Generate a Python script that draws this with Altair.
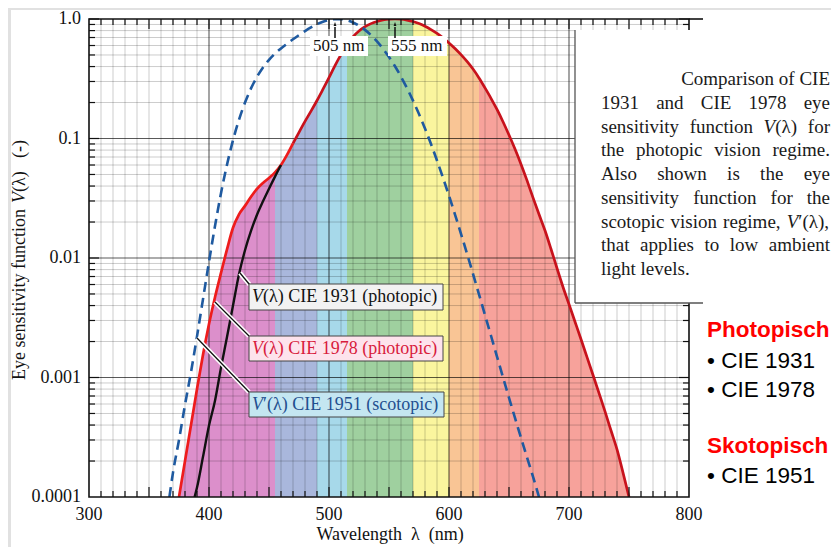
import altair as alt
import pandas as pd

# ---------------- data ----------------
wl_1978 = list(range(375, 751, 5))
v_1978 = [0.0001, 0.0002, 0.0004, 0.0008, 0.00155, 0.0028, 0.0047, 0.0075, 0.0118, 0.0179,
          0.0232, 0.0273, 0.0326, 0.0379, 0.0424, 0.0468, 0.0521, 0.0600, 0.0729, 0.0910,
          0.1126, 0.1390, 0.1693, 0.2080, 0.2586, 0.3230, 0.4073, 0.5030, 0.6082, 0.7100,
          0.7932, 0.8620, 0.9149, 0.9540, 0.9803, 0.9950, 1.0000, 0.9950, 0.9786, 0.9520,
          0.9154, 0.8700, 0.8163, 0.7570, 0.6949, 0.6310, 0.5668, 0.5030, 0.4412, 0.3810,
          0.3210, 0.2650, 0.2170, 0.1750, 0.1382, 0.1070, 0.0816, 0.0610, 0.0446, 0.0320,
          0.0232, 0.0170, 0.0119, 0.00821, 0.00572, 0.0041, 0.00293, 0.00209, 0.00148, 0.00105,
          0.00074, 0.00052, 0.00036, 0.00025, 0.00016, 0.0001]

wl_1931 = [388, 390, 395, 400, 405, 410, 415, 420, 425, 430, 435, 440, 445, 450, 455, 460]
v_1931 = [0.0001, 0.00012, 0.000217, 0.000396, 0.00064, 0.00121, 0.00218, 0.0040,
          0.0073, 0.0116, 0.01684, 0.0230, 0.0298, 0.0380, 0.0480, 0.0600]

wl_1951 = [367, 370] + list(range(375, 676, 5))
v_1951 = [0.0001, 0.00016, 0.0003, 0.00059, 0.00111, 0.00221, 0.00453, 0.00929, 0.01852, 0.03484,
          0.0604, 0.0966, 0.1436, 0.1998, 0.2625, 0.3281, 0.3931, 0.455, 0.513, 0.567,
          0.620, 0.676, 0.734, 0.793, 0.851, 0.904, 0.949, 0.982, 0.998, 0.997,
          0.975, 0.935, 0.880, 0.811, 0.733, 0.650, 0.564, 0.481, 0.402, 0.3288,
          0.2639, 0.2076, 0.1602, 0.1212, 0.0899, 0.0655, 0.0469, 0.03315, 0.0231, 0.01593,
          0.01088, 0.00737, 0.00497, 0.003335, 0.002235, 0.001497, 0.001005, 0.000677, 0.000459, 0.0003129,
          0.0002146, 0.000148, 0.0001]

band_names = ["Violett", "Blau", "Cyan", "Grün", "Gelb", "Orange", "Rot"]
band_edges = [375, 455, 490, 515, 570, 600, 625, 750]
band_colors = ["#dc8fcb", "#a9b7dc", "#a7d9ea", "#9fd09f", "#faf59e", "#f9c595", "#f7a29b"]

x_domain = [300, 800]
y_domain = [0.0001, 1.0]
x_label_values = [300, 400, 500, 600, 700, 800]
x_label_texts = ["300", "400", "500", "600", "700", "800"]
y_label_values = [0.0001, 0.001, 0.01, 0.1, 1.0]
y_label_texts = ["0.0001", "0.001", "0.01", "0.1", "1.0"]
x_title = "Wavelength \u00a0λ \u00a0(nm)"
peak_wl = [505, 555]
red_split_wl = 470  # where the 1978 curve changes from bright to dark red

x_grid_minor = [w for w in range(310, 800, 10) if w % 100]
x_grid_major = [400, 500, 600, 700]
x_ticks_short = [w for w in range(310, 800, 10) if w % 50]
x_ticks_long = [w for w in range(350, 800, 50)]
y_grid_minor = [k * 10.0 ** e for e in range(-4, 0) for k in range(2, 10)]
y_grid_major = [0.001, 0.01, 0.1]

SERIF = "Liberation Serif"
SANS = "Liberation Sans"
W, H = 600, 478

# ---------------- tables ----------------
df1931 = pd.DataFrame({"wl": wl_1931, "v": v_1931})
df1951 = pd.DataFrame({"wl": wl_1951, "v": v_1951})

red_rows = []
for w, v in zip(wl_1978, v_1978):
    if w <= red_split_wl:
        red_rows.append({"wl": w, "v": v, "seg": "a"})
    if w >= red_split_wl:
        red_rows.append({"wl": w, "v": v, "seg": "b"})
df1978 = pd.DataFrame(red_rows)

rows = []
for i, name in enumerate(band_names):
    lo, hi = band_edges[i], band_edges[i + 1]
    for w, v in zip(wl_1978, v_1978):
        if lo <= w <= hi:
            rows.append({"band": name, "wl": w, "v": v, "base": y_domain[0]})
bands_df = pd.DataFrame(rows)

xs = alt.Scale(domain=x_domain, nice=False, zero=False)
ys = alt.Scale(type="log", domain=y_domain, nice=False)


def X():
    return alt.X("wl:Q", scale=xs, axis=None)


def Y():
    return alt.Y("v:Q", scale=ys, axis=None)


def PX(field):
    return alt.X(field, scale=None, axis=None)


def PY(field):
    return alt.Y(field, scale=None, axis=None)


one = pd.DataFrame({"i": [0]})

# page white sheet on gray slide background
sheet = alt.Chart(one).mark_rect(fill="white").encode(
    x=alt.value(-78), x2=alt.value(760), y=alt.value(-9), y2=alt.value(560))

bands = alt.Chart(bands_df).mark_area(interpolate="monotone", clip=True).encode(
    x=X(), y=Y(), y2=alt.Y2("base:Q"),
    color=alt.Color("band:N", scale=alt.Scale(domain=band_names, range=band_colors), legend=None),
)

gx_minor = alt.Chart(pd.DataFrame({"wl": x_grid_minor})).mark_rule(
    color="#000", opacity=0.2, strokeWidth=1).encode(x=X())
gy_minor = alt.Chart(pd.DataFrame({"v": y_grid_minor})).mark_rule(
    color="#000", opacity=0.2, strokeWidth=1).encode(y=Y())
gx_major = alt.Chart(pd.DataFrame({"wl": x_grid_major})).mark_rule(
    color="#000", opacity=0.65, strokeWidth=1.1).encode(x=X())
gy_major = alt.Chart(pd.DataFrame({"v": y_grid_major})).mark_rule(
    color="#000", opacity=0.65, strokeWidth=1.1).encode(y=Y())

red = alt.Chart(df1978).mark_line(strokeWidth=2.7, interpolate="monotone", clip=True).encode(
    x=X(), y=Y(),
    color=alt.Color("seg:N", scale=alt.Scale(domain=["a", "b"], range=["#ee1c1c", "#c8121c"]),
                    legend=None))
black = alt.Chart(df1931).mark_line(color="#111111", strokeWidth=2.4,
                                    interpolate="monotone", clip=True).encode(x=X(), y=Y())
blue = alt.Chart(df1951).mark_line(color="#1f5aa0", strokeWidth=2.6, strokeDash=[10, 6],
                                   interpolate="monotone", clip=True).encode(x=X(), y=Y())

tick_style = dict(color="#111", strokeWidth=1.2)
txs = pd.DataFrame({"wl": x_ticks_short})
txl = pd.DataFrame({"wl": x_ticks_long})
tys = pd.DataFrame({"v": y_grid_minor})
tyl = pd.DataFrame({"v": y_grid_major + [1.0]})
ticks = [
    alt.Chart(txs).mark_rule(**tick_style).encode(x=X(), y=alt.value(H), y2=alt.value(H - 6)),
    alt.Chart(txs).mark_rule(**tick_style).encode(x=X(), y=alt.value(0), y2=alt.value(6)),
    alt.Chart(txl).mark_rule(**tick_style).encode(x=X(), y=alt.value(H), y2=alt.value(H - 10)),
    alt.Chart(txl).mark_rule(**tick_style).encode(x=X(), y=alt.value(0), y2=alt.value(10)),
    alt.Chart(tys).mark_rule(**tick_style).encode(y=Y(), x=alt.value(0), x2=alt.value(6)),
    alt.Chart(tys).mark_rule(**tick_style).encode(y=Y(), x=alt.value(W), x2=alt.value(W - 6)),
    alt.Chart(tyl).mark_rule(**tick_style).encode(y=Y(), x=alt.value(0), x2=alt.value(10)),
    alt.Chart(tyl).mark_rule(**tick_style).encode(y=Y(), x=alt.value(W), x2=alt.value(W - 10)),
]

frame = alt.Chart(one).mark_rect(fillOpacity=0, stroke="#111", strokeWidth=1.6).encode(
    x=alt.value(0), x2=alt.value(W), y=alt.value(0), y2=alt.value(H))
frame_ext = alt.Chart(one).mark_rule(color="#111", strokeWidth=1.6).encode(
    x=alt.value(W), x2=alt.value(614), y=alt.value(0))

# tick labels through the scales
x_lab = alt.Chart(pd.DataFrame({"wl": x_label_values, "t": x_label_texts})).mark_text(
    font=SERIF, fontSize=18, color="#111", baseline="middle", align="center").encode(
    x=X(), y=alt.value(H + 18), text="t:N")
y_lab = alt.Chart(pd.DataFrame({"v": y_label_values, "t": y_label_texts})).mark_text(
    font=SERIF, fontSize=18, color="#111", baseline="middle", align="right").encode(
    y=Y(), x=alt.value(-8), text="t:N")
x_tit = alt.Chart(pd.DataFrame({"t": [x_title]})).mark_text(
    font=SERIF, fontSize=18, color="#111", baseline="middle", align="center").encode(
    x=alt.value(301), y=alt.value(H + 38), text="t:N")

# description box (white, left + bottom border)
desc_box = alt.Chart(one).mark_rect(fill="white").encode(
    x=alt.value(486), x2=alt.value(790), y=alt.value(11), y2=alt.value(284))
desc_border = alt.Chart(pd.DataFrame({
    "x1": [486, 486], "x2": [486, 614], "y1": [11, 284], "y2": [284, 284]})).mark_rule(
    color="#555", strokeWidth=1.3).encode(
    x=PX("x1:Q"), x2="x2:Q", y=PY("y1:Q"), y2="y2:Q")

# leader lines
lead_df = pd.DataFrame({"x1": [151, 126, 108], "y1": [254, 283, 319],
                        "x2": [160.5, 160, 160], "y2": [265.5, 317, 373]})
lead_white = alt.Chart(lead_df).mark_rule(color="white", strokeWidth=4.5).encode(
    x=PX("x1:Q"), x2="x2:Q", y=PY("y1:Q"), y2="y2:Q")
lead_black = alt.Chart(lead_df).mark_rule(color="#111", strokeWidth=1.3).encode(
    x=PX("x1:Q"), x2="x2:Q", y=PY("y1:Q"), y2="y2:Q")

# label boxes
lbl_box_df = pd.DataFrame({"x1": [160, 160, 160], "x2": [354, 354, 355],
                           "y1": [265, 317, 373], "y2": [291, 342, 398],
                           "f": ["#f2f2f2", "#fde3ec", "#c4e6f1"]})
lbl_boxes = alt.Chart(lbl_box_df).mark_rect(stroke="#444", strokeWidth=1).encode(
    x=PX("x1:Q"), x2="x2:Q", y=PY("y1:Q"), y2="y2:Q",
    fill=alt.Fill("f:N", scale=None, legend=None))

peak_bg_df = pd.DataFrame({"x1": [221, 299], "x2": [279, 358], "y1": [17, 17], "y2": [37, 37]})
peak_bg = alt.Chart(peak_bg_df).mark_rect(fill="white").encode(
    x=PX("x1:Q"), x2="x2:Q", y=PY("y1:Q"), y2="y2:Q")

pk = pd.DataFrame({"wl": peak_wl})
arrow_stem = alt.Chart(pk).mark_rule(color="#111", strokeWidth=1.5).encode(
    x=X(), y=alt.value(8), y2=alt.value(19))
arrow_head = alt.Chart(pk).mark_point(
    shape="M -0.35 0.5 L 0 -0.5 L 0.35 0.5 Z", filled=True, color="#111", size=64, opacity=1).encode(
    x=X(), y=alt.value(5))


def texts(records, **kw):
    df = pd.DataFrame(records, columns=["px", "py", "t", "c"])
    return alt.Chart(df).mark_text(**kw).encode(
        x=PX("px:Q"), y=PY("py:Q"),
        text="t:N", color=alt.Color("c:N", scale=None, legend=None))


# ---- justified paragraph layout (Times metrics, units per 1000 em) ----
TW = {"a": 444, "b": 500, "c": 444, "d": 500, "e": 444, "f": 333, "g": 500, "h": 500,
      "i": 278, "j": 278, "k": 500, "l": 278, "m": 778, "n": 500, "o": 500, "p": 500,
      "q": 500, "r": 333, "s": 389, "t": 278, "u": 500, "v": 500, "w": 722, "x": 500,
      "y": 500, "z": 444, "A": 722, "C": 667, "E": 611, "I": 333, "V": 722, " ": 250,
      ".": 250, ",": 250, "(": 333, ")": 333, "λ": 500, "′": 250}
TW_IT = {"V": 611}


def seg_w(text, italic, size):
    table = TW_IT if italic else TW
    return sum(table.get(ch, TW.get(ch, 500)) for ch in text) * size / 1000.0


PARA_SIZE = 19
PL, PR = 512, 741
para_lines = [
    ("right", [[("Comparison", 0)], [("of", 0)], [("CIE", 0)]]),
    ("justify", [[("1931", 0)], [("and", 0)], [("CIE", 0)], [("1978", 0)], [("eye", 0)]]),
    ("justify", [[("sensitivity", 0)], [("function", 0)], [("V", 1), ("(λ)", 0)], [("for", 0)]]),
    ("justify", [[("the", 0)], [("photopic", 0)], [("vision", 0)], [("regime.", 0)]]),
    ("justify", [[("Also", 0)], [("shown", 0)], [("is", 0)], [("the", 0)], [("eye", 0)]]),
    ("justify", [[("sensitivity", 0)], [("function", 0)], [("for", 0)], [("the", 0)]]),
    ("justify", [[("scotopic", 0)], [("vision", 0)], [("regime,", 0)], [("V", 1), ("′(λ),", 0)]]),
    ("justify", [[("that", 0)], [("applies", 0)], [("to", 0)], [("low", 0)], [("ambient", 0)]]),
    ("left", [[("light", 0)], [("levels.", 0)]]),
]
P = "#1a1a1a"
para_normal, para_italic = [], []
space = TW[" "] * PARA_SIZE / 1000.0
for li, (mode, words) in enumerate(para_lines):
    yb = 66 + li * 23.75
    widths = [sum(seg_w(t, it, PARA_SIZE) for t, it in wd) for wd in words]
    total = sum(widths)
    if mode == "justify":
        gap = (PR - PL - total) / (len(words) - 1)
        x = PL
    elif mode == "right":
        gap = space
        x = PR - total - gap * (len(words) - 1)
    else:
        gap = space
        x = PL
    for wd, wdw in zip(words, widths):
        sx = x
        for t, it in wd:
            (para_italic if it else para_normal).append((sx, yb, t, P))
            sx += seg_w(t, it, PARA_SIZE)
        x += wdw + gap

RC, BC = "#d81b3c", "#1f4f8f"
box_normal = [(174, 278, "(λ) CIE 1931 (photopic)", "#111"),
              (174, 329.5, "(λ) CIE 1978 (photopic)", RC),
              (174, 385.5, "′(λ) CIE 1951 (scotopic)", BC)]
box_italic = [(163, 278, "V", "#111"), (163, 329.5, "V", RC), (163, 385.5, "V", BC)]

peak_txt = [(224, 27, "505 nm", "#111"), (302, 27, "555 nm", "#111")]

legend_bold = [(618, 318, "Photopisch", "#ff0000"), (618, 434, "Skotopisch", "#ff0000")]
legend_norm = [(618, 349, "• CIE 1931", "#000"), (618, 378, "• CIE 1978", "#000"),
               (618, 464, "• CIE 1951", "#000")]

ytitle_norm = [(-69, 361, "Eye sensitivity function", "#111"), (-69, 173, "(λ)", "#111"),
               (-69, 139, "(-)", "#111")]
ytitle_ital = [(-69, 184, "V", "#111")]

text_layers = [
    texts(para_normal, font=SERIF, fontSize=PARA_SIZE, align="left", baseline="alphabetic"),
    texts(para_italic, font=SERIF, fontSize=PARA_SIZE, fontStyle="italic", align="left", baseline="alphabetic"),
    texts(box_normal, font=SERIF, fontSize=18, align="left", baseline="middle"),
    texts(box_italic, font=SERIF, fontSize=18, fontStyle="italic", align="left", baseline="middle"),
    texts(peak_txt, font=SERIF, fontSize=17, align="left", baseline="middle"),
    texts(legend_bold, font=SANS, fontSize=22.5, fontWeight="bold", align="left", baseline="alphabetic"),
    texts(legend_norm, font=SANS, fontSize=22.5, align="left", baseline="alphabetic"),
    texts(ytitle_norm, font=SERIF, fontSize=18, align="left", baseline="middle", angle=270),
    texts(ytitle_ital, font=SERIF, fontSize=18, fontStyle="italic", align="left", baseline="middle", angle=270),
]

chart = alt.layer(
    sheet, bands, gx_minor, gy_minor, gx_major, gy_major,
    red, black, blue, *ticks, frame, frame_ext, x_lab, y_lab, x_tit,
    desc_box, desc_border, lead_white, lead_black, lbl_boxes,
    peak_bg, arrow_stem, arrow_head, *text_layers,
).properties(
    width=W, height=H,
    padding={"left": 81, "top": 11, "right": 142, "bottom": 50},
    autosize=alt.AutoSizeParams(type="none"),
    background="#e1e1e1",
).resolve_scale(color="independent").configure_view(strokeWidth=0)

chart.save("out.html", embed_options={"renderer": "svg", "actions": False})
